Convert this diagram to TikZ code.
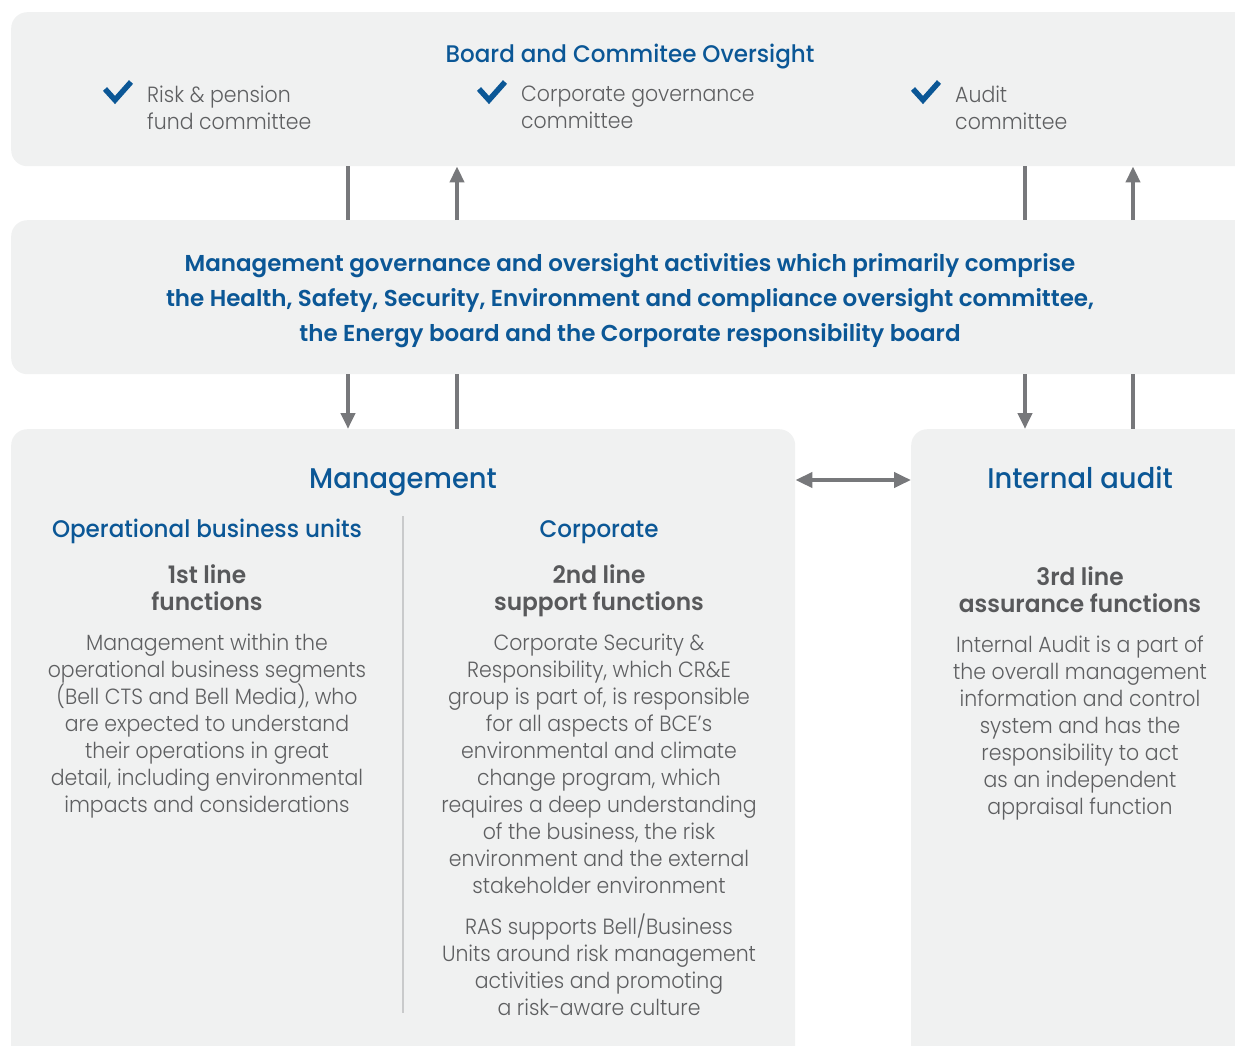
\documentclass[tikz,border=0pt]{standalone}
\usepackage{fontspec}
\setmainfont{Poppins}
\newfontfamily\plight{Poppins Light}[FakeStretch=0.93]
\newfontfamily\pmed{Poppins Medium}[FakeStretch=0.96]
\newfontfamily\psemi{Poppins SemiBold}
\newfontfamily\psemic{Poppins SemiBold}[FakeStretch=0.97]
\usetikzlibrary{arrows.meta}
\definecolor{bblue}{HTML}{0B5796}
\definecolor{boxfill}{HTML}{F0F1F1}
\definecolor{arrgray}{HTML}{77787B}
\definecolor{txtgray}{HTML}{5E5F61}
\definecolor{headgray}{HTML}{58595B}
\definecolor{divgray}{HTML}{C9CACB}
\begin{document}
\begin{tikzpicture}[x=1pt,y=-1pt,
  box/.style={fill=boxfill, draw=none, rounded corners=16pt, inner sep=0, anchor=north west},
  conn/.style={draw=arrgray, line width=4pt},
  tip/.style={-{Triangle[width=14pt,length=16pt]}},
  dtip/.style={{Triangle[width=15pt,length=17pt]}-{Triangle[width=15pt,length=17pt]}},
  check/.style={draw=bblue, line width=5.5pt, line join=miter, line cap=butt},
  body/.style={inner sep=0, align=center, anchor=north, text=txtgray, font={\plight\fontsize{22}{27}\selectfont}},
  item/.style={inner sep=0, align=left, anchor=north west, text=txtgray, font={\plight\fontsize{22}{27}\selectfont}},
  lineh/.style={inner sep=0, align=center, anchor=north, text=headgray, font={\psemic\fontsize{24}{27}\selectfont}},
  subh/.style={inner sep=0, anchor=base, text=bblue, font={\pmed\fontsize{24}{27}\selectfont}},
  bigh/.style={inner sep=0, anchor=base, text=bblue, font={\pmed\fontsize{28.5}{34}\selectfont}},
  midh/.style={inner sep=0, align=center, anchor=north, text=bblue, font={\psemi\fontsize{23}{35}\selectfont}}
]
\useasboundingbox (0,0) rectangle (1235,1045);
\clip (0,0) rectangle (1235,1045);

% boxes
\node[box, minimum width=1260pt, minimum height=154pt] (top) at (11,12) {};
\node[box, minimum width=1260pt, minimum height=154pt] (mid) at (11,220) {};
\node[box, minimum width=784pt, minimum height=660pt] (mgmt) at (11,429) {};
\node[box, minimum width=360pt, minimum height=660pt] (audit) at (911,429) {};

% connector columns
\coordinate (xA) at (348,0);
\coordinate (xB) at (457,0);
\coordinate (xC) at (1025,0);
\coordinate (xD) at (1133,0);
\coordinate (yM) at (0,480);

\draw[conn] (top.south -| xA) -- (mid.north -| xA);
\draw[conn,tip] (mid.north -| xB) -- (top.south -| xB);
\draw[conn] (top.south -| xC) -- (mid.north -| xC);
\draw[conn,tip] (mid.north -| xD) -- (top.south -| xD);

\draw[conn,tip] (mid.south -| xA) -- (mgmt.north -| xA);
\draw[conn] (mid.south -| xB) -- (mgmt.north -| xB);
\draw[conn,tip] (mid.south -| xC) -- (audit.north -| xC);
\draw[conn] (mid.south -| xD) -- (audit.north -| xD);

\draw[conn,dtip] (mgmt.east |- yM) -- (audit.west |- yM);

% divider
\coordinate (dv1) at (403,516);
\coordinate (dv2) at (403,1013);
\draw[divgray, line width=1.5pt] (dv1) -- (dv2);

% top box content
\node[inner sep=0, anchor=base, text=bblue, font={\pmed\fontsize{24}{27}\selectfont}] (title) at (630,62) {Board and Commitee Oversight};
\draw[check] (105,89) -- (115,100) -- (131,82);
\draw[check] (479,89) -- (489,100) -- (505,82);
\draw[check] (913,89) -- (923,100) -- (939,82);
\node[item] (c1) at (147,86) {Risk \& pension\\fund committee};
\node[item] (c2) at (521,86) {Corporate governance\\committee};
\node[item] (c3) at (955,86) {Audit\\committee};

% middle heading
\node[midh] (midtxt) at (630,253) {Management governance and oversight activities which primarily comprise\\the Health, Safety, Security, Environment and compliance oversight committee,\\the Energy board and the Corporate responsibility board};

% management box
\node[bigh] (mtitle) at (403,488) {Management};
\node[subh] (obu) at (207,537) {Operational business units};
\node[subh] (corp) at (599,537) {Corporate};
\node[lineh] (l1) at (207,564) {1st line\\functions};
\node[lineh] (l2) at (599,564) {2nd line\\support functions};
\node[body] (b1) at (207,634) {Management within the\\operational business segments\\(Bell CTS and Bell Media), who\\are expected to understand\\their operations in great\\detail, including environmental\\impacts and considerations};
\node[body] (b2) at (599,634) {Corporate Security \&\\Responsibility, which CR\&E\\group is part of, is responsible\\for all aspects of BCE’s\\environmental and climate\\change program, which\\requires a deep understanding\\of the business, the risk\\environment and the external\\stakeholder environment};
\node[body] (b3) at (599,914) {RAS supports Bell/Business\\Units around risk management\\activities and promoting\\a risk-aware culture};

% internal audit box
\node[bigh] (atitle) at (1080,488) {Internal audit};
\node[lineh] (l3) at (1080,566) {3rd line\\assurance functions};
\node[body] (b4) at (1080,636) {Internal Audit is a part of\\the overall management\\information and control\\system and has the\\responsibility to act\\as an independent\\appraisal function};
\end{tikzpicture}
\end{document}
